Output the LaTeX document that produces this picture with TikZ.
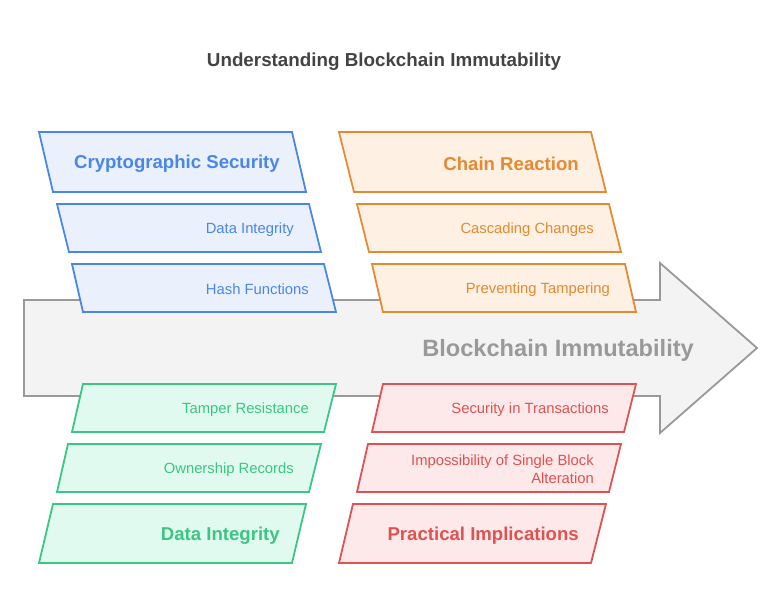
\documentclass[tikz,border=0pt]{standalone}
\usepackage{fontspec}
\setmainfont{Liberation Sans}
\definecolor{bstroke}{HTML}{4A86E8}
\definecolor{bfill}{HTML}{EAF1FD}
\definecolor{ostroke}{HTML}{E38A32}
\definecolor{ofill}{HTML}{FEF0E3}
\definecolor{gstroke}{HTML}{3CC583}
\definecolor{gfill}{HTML}{E0FAEF}
\definecolor{rstroke}{HTML}{E05252}
\definecolor{rfill}{HTML}{FDE9E9}
\definecolor{arrfill}{HTML}{F3F3F3}
\definecolor{arrstroke}{HTML}{999999}
\definecolor{titlecol}{HTML}{434343}
\tikzset{
  box/.style={line width=1.8pt, line join=miter},
  bbox/.style={box, draw=bstroke, fill=bfill},
  obox/.style={box, draw=ostroke, fill=ofill},
  gbox/.style={box, draw=gstroke, fill=gfill},
  rbox/.style={box, draw=rstroke, fill=rfill},
  head/.style={anchor=east, inner sep=0pt, font=\fontsize{18.6}{22}\selectfont\bfseries},
  item/.style={anchor=east, inner sep=0pt, font=\fontsize{14.8}{18}\selectfont, align=right},
}
\begin{document}
\begin{tikzpicture}[x=1pt,y=-1pt]
\useasboundingbox (0,0) rectangle (780,613);
\fill[white] (0,0) rectangle (780,613);
\node[font=\fontsize{18.8}{22}\selectfont\bfseries, text=titlecol] (title) at (384,61.5) {Understanding Blockchain Immutability};
% big arrow
\filldraw[fill=arrfill, draw=arrstroke, line width=1.8pt, line join=miter]
  (24,300) -- (660,300) -- (660,263) -- (757,348) -- (660,433) -- (660,396) -- (24,396) -- cycle;
\node[anchor=east, inner sep=0pt, font=\fontsize{23.6}{26}\selectfont\bfseries, text=arrstroke] (main) at (694,350) {Blockchain Immutability};
% blue
\filldraw[bbox] (39,132) -- (292,132) -- (306,192) -- (53,192) -- cycle;
\filldraw[bbox] (57,204) -- (309,204) -- (321,252) -- (69,252) -- cycle;
\filldraw[bbox] (72,264) -- (324,264) -- (336,312) -- (83,312) -- cycle;
\node[head, text=bstroke] (b1) at (280,163.5) {Cryptographic Security};
\node[item, text=bstroke] (b2) at (294,229.5) {Data Integrity};
\node[item, text=bstroke] (b3) at (309,289) {Hash Functions};
% orange
\filldraw[obox] (339,132) -- (591,132) -- (606,192) -- (354,192) -- cycle;
\filldraw[obox] (357,204) -- (609,204) -- (621,252) -- (369,252) -- cycle;
\filldraw[obox] (372,264) -- (625,264) -- (636,312) -- (383,312) -- cycle;
\node[head, text=ostroke] (o1) at (579,163.5) {Chain Reaction};
\node[item, text=ostroke] (o2) at (594,229.5) {Cascading Changes};
\node[item, text=ostroke] (o3) at (610,289.5) {Preventing Tampering};
% green
\filldraw[gbox] (83,384) -- (336,384) -- (324,432) -- (72,432) -- cycle;
\filldraw[gbox] (68,444) -- (321,444) -- (309,492) -- (57,492) -- cycle;
\filldraw[gbox] (53,504) -- (306,504) -- (292,563) -- (39,563) -- cycle;
\node[item, text=gstroke] (g1) at (309,409.5) {Tamper Resistance};
\node[item, text=gstroke] (g2) at (294,469.5) {Ownership Records};
\node[head, text=gstroke] (g3) at (280,535.5) {Data Integrity};
% red
\filldraw[rbox] (383,384) -- (636,384) -- (624,432) -- (372,432) -- cycle;
\filldraw[rbox] (368,444) -- (621,444) -- (609,492) -- (357,492) -- cycle;
\filldraw[rbox] (353,504) -- (606,504) -- (591,563) -- (339,563) -- cycle;
\node[item, text=rstroke] (r1) at (609,409.5) {Security in Transactions};
\node[item, text=rstroke] (r2) at (594,469) {Impossibility of Single Block\\Alteration};
\node[head, text=rstroke] (r3) at (579,535.5) {Practical Implications};
\end{tikzpicture}
\end{document}
